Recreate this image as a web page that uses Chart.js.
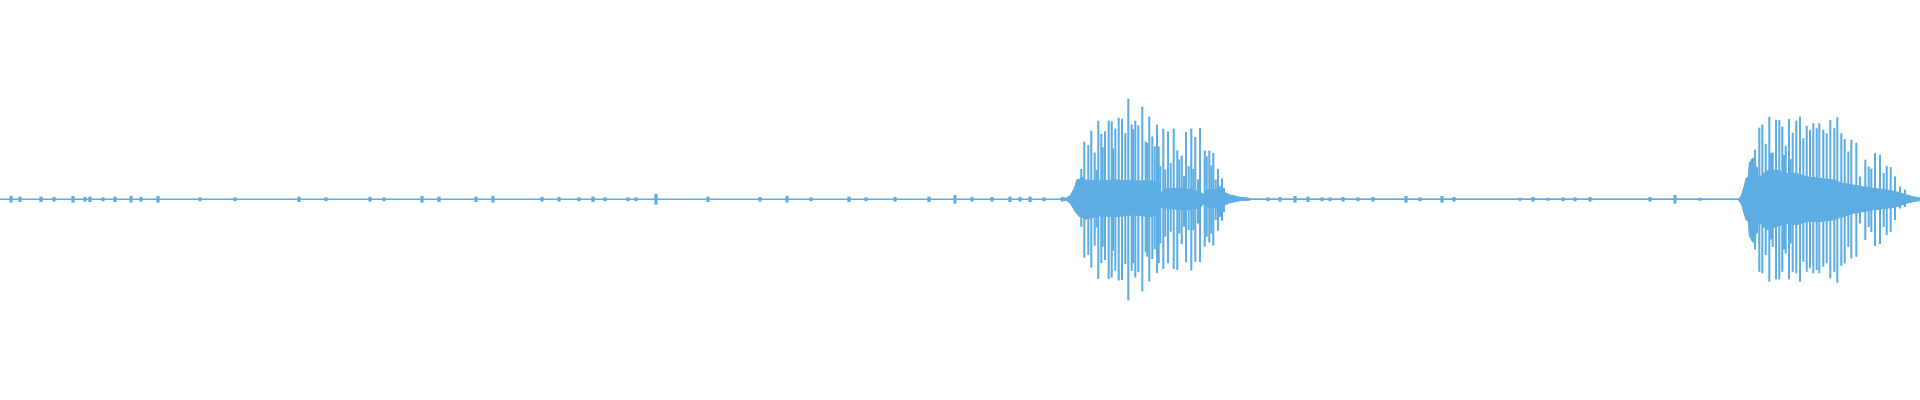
<!DOCTYPE html>
<html>
<head>
<meta charset="utf-8">
<script src="https://cdn.jsdelivr.net/npm/chart.js@4"></script>
<style>
  html, body { margin: 0; padding: 0; background: #ffffff; }
  #wrap { width: 1920px; height: 400px; }
</style>
</head>
<body>
<div id="wrap"><canvas id="c" width="1920" height="400"></canvas></div>
<script>
// Waveform, time axis 0..1920 (samples/px), amplitude -1..1
const timeSpan = [0, 1920];

// Dense core envelope of the two bursts
const coreX   = [1060,1061.7,1066,1068.3,1070.7,1073.3,1075,1076.7,1079.3,1081.7,1085,1100,1116.7,1133.3,1150,1158.3,1160,1166.7,1183.3,1200,1203.3,1206.7,1216.7,1221.7,1225,1230,1235,1240,1248,1252,
                 1738,1740.7,1742,1744,1746,1748.3,1749.3,1752.3,1755,1756.7,1760,1766.7,1776.7,1786.7,1796.7,1806.7,1820,1833.3,1843.3,1853.3,1863.3,1873.3,1886.7,1896.7,1906.7,1913.3,1920];
const coreTop = [0,.01,.005,.013,.022,.046,.065,.097,.1,.113,.097,.092,.097,.092,.093,.088,.03,.055,.055,.038,.025,.047,.05,.047,.033,.022,.017,.01,.006,0,
                 0,.013,.03,.063,.105,.113,.183,.205,.21,.13,.113,.143,.147,.13,.13,.113,.105,.097,.08,.072,.063,.055,.047,.038,.022,.013,.007];
const coreBot = [0,-.01,-.005,-.013,-.023,-.045,-.062,-.07,-.087,-.087,-.1,-.083,-.087,-.078,-.087,-.078,-.037,-.045,-.053,-.045,-.023,-.037,-.042,-.053,-.028,-.017,-.012,-.007,-.006,0,
                 0,-.02,-.033,-.07,-.103,-.11,-.182,-.212,-.22,-.137,-.12,-.153,-.137,-.12,-.128,-.112,-.112,-.103,-.087,-.07,-.062,-.053,-.045,-.037,-.02,-.012,-.007];

// Individual peaks (spikes)
const spikeX   = [1081.3,1084.3,1088.3,1091.3,1094.7,1096.7,1098.3,1101.3,1102.7,1105,1108.7,1111.7,1113,1115.3,1118.7,1122,1125.3,1128.3,1131.7,1133,1135.3,1138.3,1142.3,1145.7,1147.3,1149.3,1152.3,1154.7,1157,1158.7,1160.3,1163.3,1165.3,1168,1170.7,1173.7,1177.3,1179.3,1181.7,1184,1186,1188.7,1191.3,1193.3,1195.3,1198,1200,1204.7,1206.7,1209.3,1211.3,1213.3,1215.7,1218,1220,1222,1224,
                  1755,1757,1759.3,1762.3,1765.7,1769.3,1771,1772.7,1776,1779.3,1782.3,1784,1785.7,1789,1790.7,1792.7,1796.3,1800,1803.3,1806.7,1810,1813.3,1816.7,1819.3,1823.3,1826.7,1830.3,1834.3,1837.3,1841.3,1844.7,1848.3,1851.3,1856.3,1860,1865.3,1868.7,1871.3,1875,1880,1883.7,1886.7,1890.7,1895,1900,1905];
const spikeTop = [.151,.288,.271,.343,.233,.146,.393,.326,.259,.339,.393,.389,.253,.353,.408,.403,.331,.503,.373,.35,.393,.369,.464,.289,.281,.414,.314,.264,.373,.264,.164,.353,.148,.339,.181,.353,.244,.198,.218,.114,.336,.164,.353,.151,.311,.098,.356,.243,.214,.243,.168,.231,.098,.151,.064,.103,.055,
                  .247,.16,.358,.373,.277,.413,.23,.233,.397,.397,.363,.22,.267,.402,.2,.333,.393,.413,.305,.367,.347,.38,.355,.38,.347,.33,.397,.355,.41,.33,.3,.238,.297,.283,.113,.197,.163,.152,.23,.222,.13,.167,.16,.113,.063,.047];
const spikeBot = [-.136,-.291,-.278,-.341,-.231,-.14,-.398,-.319,-.236,-.303,-.398,-.391,-.256,-.356,-.406,-.403,-.324,-.506,-.358,-.319,-.391,-.364,-.461,-.264,-.286,-.411,-.298,-.25,-.369,-.319,-.219,-.348,-.186,-.319,-.161,-.348,-.353,-.17,-.223,-.136,-.314,-.153,-.356,-.153,-.311,-.12,-.314,-.236,-.186,-.216,-.17,-.231,-.103,-.156,-.087,-.106,-.062,
                  -.25,-.17,-.362,-.37,-.278,-.412,-.2,-.237,-.4,-.4,-.362,-.25,-.27,-.4,-.22,-.362,-.37,-.412,-.312,-.362,-.345,-.37,-.353,-.37,-.337,-.32,-.395,-.362,-.417,-.332,-.32,-.237,-.295,-.287,-.12,-.203,-.137,-.162,-.233,-.223,-.137,-.178,-.162,-.103,-.045,-.037];

// Low-level noise blips in the quiet parts
const noiseX   = [11,20,41,54,73,85,90,103,115,131,141,158,200,235,299,326,370,384,422,439,476,493,542,559,579,593,605,628,636,656,708,760,787,811,849,866,895,929,955,972,992,1010,1020,1030,1044,
                  1268,1280,1295,1308,1322,1330,1343,1358,1373,1406,1420,1442,1454,1520,1533,1548,1563,1575,1590,1650,1675,1700];
const noiseAmp = [.015,.012,.012,.01,.015,.01,.012,.008,.012,.015,.01,.015,.008,.008,.012,.008,.01,.008,.015,.012,.012,.015,.01,.01,.008,.012,.008,.008,.008,.025,.012,.01,.015,.008,.012,.008,.01,.012,.02,.01,.01,.012,.01,.012,.008,
                  .008,.01,.015,.012,.008,.008,.01,.008,.01,.015,.008,.015,.01,.006,.01,.006,.008,.008,.01,.01,.02,.006];

const COLOR = '#5DADE2';

const coreUpper = coreX.map((x, i) => ({ x, y: coreTop[i] }));
const coreLower = coreX.map((x, i) => ({ x, y: coreBot[i] }));
const spikes = spikeX.map((x, i) => ({ x, y: [spikeBot[i], spikeTop[i]] }));
const noise = noiseX.map((x, i) => ({ x, y: [-noiseAmp[i], noiseAmp[i]] }));
const baseline = timeSpan.map(x => ({ x, y: 0 }));

new Chart(document.getElementById('c'), {
  type: 'bar',
  data: {
    datasets: [
      { type: 'line', data: baseline, borderColor: COLOR, borderWidth: 1.5, pointRadius: 0, fill: false },
      { type: 'line', data: coreUpper, borderColor: COLOR, backgroundColor: COLOR, borderWidth: 1, pointRadius: 0, fill: '+1', tension: 0 },
      { type: 'line', data: coreLower, borderColor: COLOR, backgroundColor: COLOR, borderWidth: 1, pointRadius: 0, fill: false, tension: 0 },
      { type: 'bar', data: spikes, backgroundColor: COLOR, borderWidth: 0, barThickness: 1.4, grouped: false },
      { type: 'bar', data: noise, backgroundColor: COLOR, borderWidth: 0, barThickness: 2.5, grouped: false }
    ]
  },
  options: {
    responsive: false,
    animation: false,
    layout: { padding: 0, autoPadding: false },
    plugins: { legend: { display: false }, tooltip: { enabled: false } },
    scales: {
      x: { type: 'linear', min: timeSpan[0], max: timeSpan[1], offset: false, display: false },
      y: { min: -1.007, max: 1, display: false }
    }
  }
});
</script>
</body>
</html>
